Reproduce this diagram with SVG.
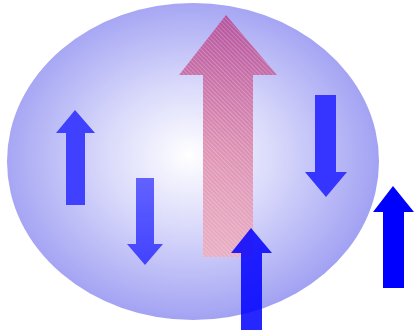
<svg xmlns="http://www.w3.org/2000/svg" width="414" height="334" viewBox="0 0 414 334">
<defs>
<radialGradient id="bg" cx="0.49" cy="0.49" r="0.52" fx="0.49" fy="0.48">
<stop offset="0" stop-color="#ffffff"/>
<stop offset="0.45" stop-color="#d8d8fb"/>
<stop offset="1" stop-color="#a0a0f3"/>
</radialGradient>
<linearGradient id="big" x1="0" y1="0" x2="0" y2="1">
<stop offset="0" stop-color="#b83a86"/>
<stop offset="1" stop-color="#f4a8b4"/>
</linearGradient>
<linearGradient id="dn" x1="0" y1="0" x2="0" y2="1">
<stop offset="0" stop-color="#6262ff"/>
<stop offset="1" stop-color="#4242ff"/>
</linearGradient>
<pattern id="hatch" width="3" height="3" patternUnits="userSpaceOnUse" patternTransform="rotate(45)">
<rect width="3" height="1" fill="#ffffff" opacity="0.25"/>
</pattern>
</defs>
<style>
.a1{fill:#4040ff}
.a3{fill:#3535ff}
.a4{fill:#0000ff;fill-opacity:0.85}
.a5{fill:#0000ff}
</style>
<g id="field">
<ellipse cx="193" cy="161.5" rx="186" ry="158.5" fill="url(#bg)"/>
</g>
<g id="big-arrow" opacity="0.78">
<polygon points="226,15 277,75 253,75 253,257 203,257 203,75 179,75" fill="url(#big)"/>
<polygon points="226,15 277,75 253,75 253,257 203,257 203,75 179,75" fill="url(#hatch)"/>
</g>
<g id="arrow-left-up">
<polygon class="a1" points="75,110 95,133 85,133 85,205 66,205 66,133 56,133"/>
</g>
<g id="arrow-left-down">
<polygon fill="url(#dn)" points="136,178 154,178 154,244 163,244 145,265 127,244 136,244"/>
</g>
<g id="arrow-right-down">
<polygon class="a3" points="315,95 336,95 336,172 347,172 326,197 305,172 315,172"/>
</g>
<g id="arrow-bottom-up">
<polygon class="a4" points="251,228 272,253 262,253 262,330 241,330 241,253 231,253"/>
</g>
<g id="arrow-far-right">
<polygon class="a5" points="393,186 414,212 404,212 404,288 383,288 383,212 373,212"/>
</g>
</svg>
